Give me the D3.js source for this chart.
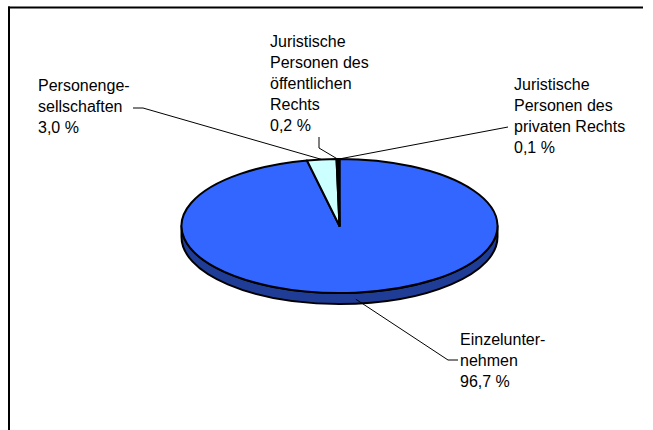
<!DOCTYPE html>
<html><head><meta charset="utf-8">
<script src="https://cdn.jsdelivr.net/npm/d3@7"></script>
<style>html,body{margin:0;padding:0;background:#fff;}svg{display:block;}</style>
</head><body>
<svg id="c" width="653" height="430"></svg>
<script>
const categories = ["Einzelunternehmen", "Personengesellschaften", "Juristische Personen des öffentlichen Rechts", "Juristische Personen des privaten Rechts"];
const values = [96.7, 3.0, 0.2, 0.1];
const labelLines = [["Einzelunter-", "nehmen"], ["Personenge-", "sellschaften"], ["Juristische", "Personen des", "öffentlichen", "Rechts"], ["Juristische", "Personen des", "privaten Rechts"]];
const valueLabels = ["96,7 %", "3,0 %", "0,2 %", "0,1 %"];
const colors = ["#3366FF", "#CCFFFF", "#000080", "#000000"];
const sideColors = ["#1F3D96", "#7AA3A3", "#000050", "#000000"];

const svg = d3.select("#c");
const cx = 339.5, cy = 226, rx = 158, ry = 67, depth = 11;
const k = ry / rx;

// frame
svg.append("line").attr("x1", 8).attr("x2", 643).attr("y1", 7.5).attr("y2", 7.5).attr("stroke", "#000").attr("stroke-width", 2);
svg.append("line").attr("x1", 9).attr("x2", 9).attr("y1", 6.5).attr("y2", 430).attr("stroke", "#000").attr("stroke-width", 2);

const pie = d3.pie().sort(null).value(d => d).startAngle(0).endAngle(2 * Math.PI);
const arcs = pie(values);
const arc = d3.arc().innerRadius(0).outerRadius(rx);

// side (front half), drawn in scaled coordinates
const g = svg.append("g").attr("transform", `translate(${cx},${cy}) scale(1,${k})`);
const D = depth / k;
arcs.forEach((a, i) => {
  const s = Math.max(a.startAngle, Math.PI / 2), e = Math.min(a.endAngle, 3 * Math.PI / 2);
  if (e <= s) return;
  const p = (ang, dy) => [rx * Math.sin(ang), -rx * Math.cos(ang) + dy];
  const [x0, y0] = p(s, 0), [x1, y1] = p(e, 0);
  const large = (e - s) > Math.PI ? 1 : 0;
  const path = `M${x0},${y0} A${rx},${rx} 0 ${large} 1 ${x1},${y1} L${x1},${y1 + D} A${rx},${rx} 0 ${large} 0 ${x0},${y0 + D} Z`;
  g.append("path").attr("d", path).attr("fill", sideColors[i])
    .attr("stroke", "#000").attr("stroke-width", 2).attr("vector-effect", "non-scaling-stroke").attr("stroke-linejoin", "round");
});
// top faces
g.selectAll("path.top").data(arcs).join("path").attr("class", "top")
  .attr("d", arc).attr("fill", (d, i) => colors[i])
  .attr("stroke", "#000").attr("stroke-width", 2).attr("vector-effect", "non-scaling-stroke").attr("stroke-linejoin", "round");

// labels
const layout = [
  { x: 460, y: 345, lead: [[458, 360], [448, 360]], anchorDy: depth * 0.6 },
  { x: 38, y: 91, lead: [[133, 108], [143, 108]], anchorDy: 0 },
  { x: 270, y: 47, lead: [[319, 137], [319, 148]], anchorDy: 0 },
  { x: 514, y: 90, lead: [[508, 127]], anchorDy: 0 }
];
const lh = 21;
arcs.forEach((a, i) => {
  const L = layout[i];
  const lines = labelLines[i].concat([valueLabels[i]]);
  const t = svg.append("text").attr("font-family", "'Liberation Sans', Arial, sans-serif").attr("font-size", 16).attr("fill", "#000");
  lines.forEach((ln, j) => t.append("tspan").attr("x", L.x).attr("y", L.y + j * lh).text(ln));
  const mid = (a.startAngle + a.endAngle) / 2;
  const ax = cx + rx * Math.sin(mid), ay = cy - ry * Math.cos(mid) + L.anchorDy;
  const pts = L.lead.concat([[ax, ay]]);
  svg.append("path").attr("d", d3.line()(pts)).attr("fill", "none").attr("stroke", "#000").attr("stroke-width", 1);
});
</script>
</body></html>
